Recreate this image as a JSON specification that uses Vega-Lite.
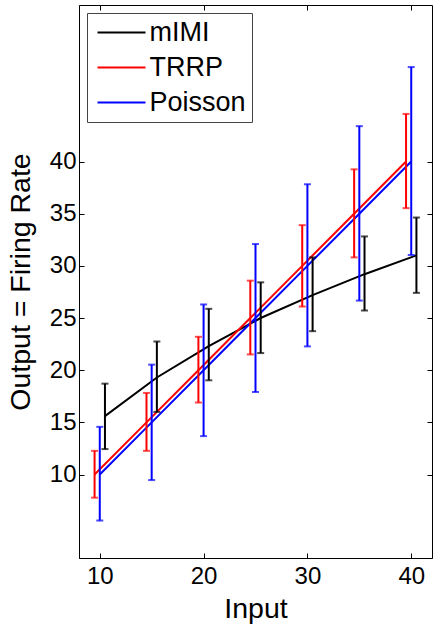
{
  "$schema": "https://vega.github.io/schema/vega-lite/v6.json",
  "width": 353,
  "height": 553,
  "autosize": "none",
  "padding": {"left": 79, "top": 5, "right": 1, "bottom": 66},
  "background": "white",
  "config": {
    "font": "Liberation Sans",
    "view": {"stroke": "black", "strokeWidth": 1},
    "axis": {
      "grid": false,
      "domainColor": "black",
      "tickColor": "black",
      "labelColor": "black",
      "titleColor": "black",
      "labelFont": "Liberation Sans",
      "titleFont": "Liberation Sans",
      "labelFontSize": 24,
      "titleFontSize": 28.5,
      "titleFontWeight": "normal",
      "tickSize": -5,
      "labelPadding": 8
    },
    "legend": {
      "orient": "top-left",
      "offset": 8,
      "strokeColor": "#444444",
      "fillColor": "white",
      "padding": 6,
      "symbolType": "M-2,0H2",
      "symbolSize": 576,
      "symbolOffset": 15,
      "symbolStrokeWidth": 2,
      "labelFontSize": 27,
      "labelFont": "Liberation Sans",
      "labelColor": "black",
      "labelOffset": 14.5,
      "rowPadding": 7
    }
  },
  "data": {
    "values": [
      {"series": "mIMI", "x": 10.5, "y": 15.6, "lo": 12.44, "hi": 18.71},
      {"series": "mIMI", "x": 15.5, "y": 19.3, "lo": 16.0, "hi": 22.75},
      {"series": "mIMI", "x": 20.5, "y": 22.3, "lo": 19.03, "hi": 25.88},
      {"series": "mIMI", "x": 25.5, "y": 25.0, "lo": 21.64, "hi": 28.42},
      {"series": "mIMI", "x": 30.5, "y": 27.2, "lo": 23.74, "hi": 30.81},
      {"series": "mIMI", "x": 35.5, "y": 29.2, "lo": 25.72, "hi": 32.82},
      {"series": "mIMI", "x": 40.5, "y": 31.0, "lo": 27.41, "hi": 34.63},
      {"series": "TRRP", "x": 9.5, "y": 10, "lo": 7.78, "hi": 12.27},
      {"series": "TRRP", "x": 14.5, "y": 15, "lo": 12.27, "hi": 17.82},
      {"series": "TRRP", "x": 19.5, "y": 20, "lo": 16.9, "hi": 23.2},
      {"series": "TRRP", "x": 24.5, "y": 25, "lo": 21.51, "hi": 28.58},
      {"series": "TRRP", "x": 29.5, "y": 30, "lo": 26.1, "hi": 33.9},
      {"series": "TRRP", "x": 34.5, "y": 35, "lo": 30.81, "hi": 39.25},
      {"series": "TRRP", "x": 39.5, "y": 40, "lo": 35.53, "hi": 44.56},
      {"series": "Poisson", "x": 10, "y": 10, "lo": 5.59, "hi": 14.57},
      {"series": "Poisson", "x": 15, "y": 15, "lo": 9.47, "hi": 20.53},
      {"series": "Poisson", "x": 20, "y": 20, "lo": 13.68, "hi": 26.3},
      {"series": "Poisson", "x": 25, "y": 25, "lo": 17.91, "hi": 32.09},
      {"series": "Poisson", "x": 30, "y": 30, "lo": 22.28, "hi": 37.82},
      {"series": "Poisson", "x": 35, "y": 35, "lo": 26.67, "hi": 43.39},
      {"series": "Poisson", "x": 40, "y": 40, "lo": 31.04, "hi": 49.05}
    ]
  },
  "layer": [
    {
      "mark": {"type": "line", "strokeWidth": 2},
      "encoding": {
        "x": {
          "field": "x", "type": "quantitative",
          "scale": {"domain": [8, 42], "nice": false, "zero": false},
          "axis": {"title": "Input", "values": [10, 20, 30, 40], "labelPadding": 11, "titlePadding": 6}
        },
        "y": {
          "field": "y", "type": "quantitative",
          "scale": {"domain": [2, 55], "nice": false, "zero": false},
          "axis": {"title": "Output = Firing Rate", "values": [10, 15, 20, 25, 30, 35, 40], "titlePadding": 14}
        },
        "color": {
          "field": "series", "type": "nominal",
          "scale": {"domain": ["mIMI", "TRRP", "Poisson"], "range": ["#000000", "#FF0000", "#0000FF"]},
          "legend": {"title": null}
        },
        "order": {"field": "x"}
      }
    },
    {
      "mark": {"type": "errorbar", "thickness": 2, "ticks": {"size": 7, "thickness": 2}},
      "encoding": {
        "x": {"field": "x", "type": "quantitative", "axis": null},
        "y": {"field": "lo", "type": "quantitative", "axis": null},
        "y2": {"field": "hi"},
        "color": {"field": "series", "type": "nominal", "legend": null}
      }
    },
    {
      "mark": {"type": "point", "opacity": 0},
      "encoding": {
        "x": {"field": "x", "type": "quantitative", "axis": {"orient": "top", "values": [10, 20, 30, 40], "labels": false, "title": null, "domain": false}},
        "y": {"field": "y", "type": "quantitative", "axis": {"orient": "right", "values": [10, 15, 20, 25, 30, 35, 40], "labels": false, "title": null, "domain": false}}
      }
    }
  ],
  "resolve": {"axis": {"x": "independent", "y": "independent"}}
}
